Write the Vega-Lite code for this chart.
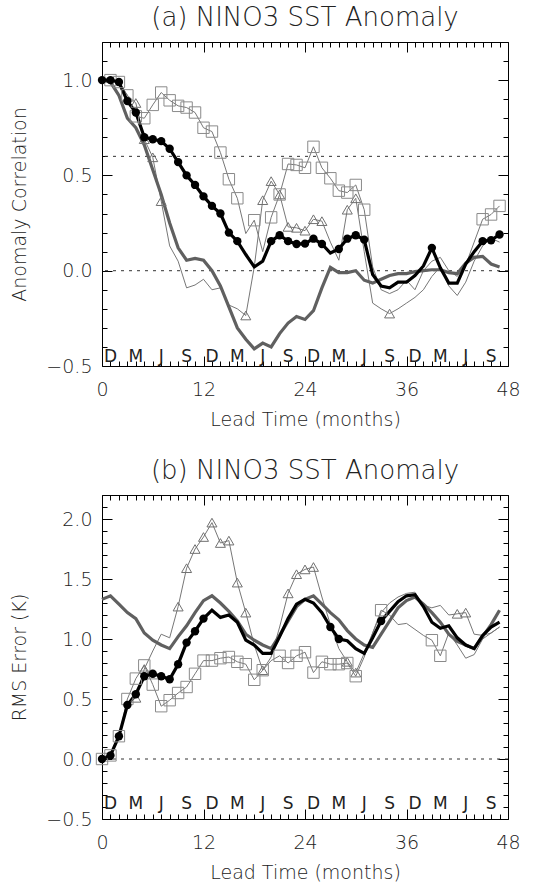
{
  "$schema": "https://vega.github.io/schema/vega-lite/v6.json",
  "background": "white",
  "padding": {"left": 10, "top": 4, "right": 5, "bottom": 5},
  "spacing": 27,
  "datasets": {
    "a": [
      {"x":0,"k":1.0,"g":1.0,"t":1.0,"q":1.0,"mk":1,"mt":0,"mq":0},
      {"x":1,"k":1.0,"g":0.99,"t":1.0,"q":1.0,"mk":1,"mt":0,"mq":1},
      {"x":2,"k":0.99,"g":0.92,"t":0.99,"q":0.99,"mk":1,"mt":0,"mq":1},
      {"x":3,"k":0.89,"g":0.80,"t":0.92,"q":0.92,"mk":1,"mt":0,"mq":1},
      {"x":4,"k":0.83,"g":0.75,"t":0.88,"q":0.81,"mk":1,"mt":1,"mq":1},
      {"x":5,"k":0.70,"g":0.66,"t":0.69,"q":0.80,"mk":1,"mt":1,"mq":1},
      {"x":6,"k":0.69,"g":0.53,"t":0.595,"q":0.87,"mk":1,"mt":1,"mq":1},
      {"x":7,"k":0.68,"g":0.40,"t":0.365,"q":0.935,"mk":1,"mt":1,"mq":1},
      {"x":8,"k":0.64,"g":0.25,"t":0.13,"q":0.894,"mk":1,"mt":0,"mq":1},
      {"x":9,"k":0.57,"g":0.12,"t":0.05,"q":0.865,"mk":1,"mt":0,"mq":1},
      {"x":10,"k":0.50,"g":0.055,"t":-0.09,"q":0.856,"mk":1,"mt":0,"mq":1},
      {"x":11,"k":0.45,"g":0.065,"t":-0.075,"q":0.83,"mk":1,"mt":0,"mq":1},
      {"x":12,"k":0.39,"g":0.055,"t":-0.045,"q":0.75,"mk":1,"mt":0,"mq":1},
      {"x":13,"k":0.34,"g":0.0,"t":-0.10,"q":0.73,"mk":1,"mt":0,"mq":1},
      {"x":14,"k":0.30,"g":-0.08,"t":-0.09,"q":0.62,"mk":1,"mt":0,"mq":1},
      {"x":15,"k":0.20,"g":-0.19,"t":-0.18,"q":0.48,"mk":1,"mt":0,"mq":1},
      {"x":16,"k":0.155,"g":-0.30,"t":-0.20,"q":0.38,"mk":1,"mt":0,"mq":1},
      {"x":17,"k":0.085,"g":-0.36,"t":-0.235,"q":0.195,"mk":0,"mt":1,"mq":0},
      {"x":18,"k":0.02,"g":-0.41,"t":0.02,"q":0.265,"mk":0,"mt":0,"mq":1},
      {"x":19,"k":0.05,"g":-0.38,"t":0.37,"q":0.10,"mk":0,"mt":1,"mq":0},
      {"x":20,"k":0.155,"g":-0.40,"t":0.47,"q":0.28,"mk":1,"mt":1,"mq":1},
      {"x":21,"k":0.186,"g":-0.33,"t":0.40,"q":0.40,"mk":1,"mt":1,"mq":1},
      {"x":22,"k":0.155,"g":-0.275,"t":0.23,"q":0.56,"mk":1,"mt":1,"mq":1},
      {"x":23,"k":0.14,"g":-0.24,"t":0.225,"q":0.555,"mk":1,"mt":1,"mq":1},
      {"x":24,"k":0.142,"g":-0.256,"t":0.21,"q":0.54,"mk":1,"mt":1,"mq":1},
      {"x":25,"k":0.168,"g":-0.21,"t":0.27,"q":0.65,"mk":1,"mt":1,"mq":1},
      {"x":26,"k":0.14,"g":-0.09,"t":0.26,"q":0.54,"mk":1,"mt":1,"mq":1},
      {"x":27,"k":0.093,"g":0.018,"t":0.15,"q":0.485,"mk":0,"mt":0,"mq":1},
      {"x":28,"k":0.114,"g":-0.01,"t":0.055,"q":0.42,"mk":1,"mt":0,"mq":1},
      {"x":29,"k":0.168,"g":-0.01,"t":0.32,"q":0.41,"mk":1,"mt":1,"mq":1},
      {"x":30,"k":0.186,"g":0.0,"t":0.38,"q":0.45,"mk":1,"mt":1,"mq":1},
      {"x":31,"k":0.163,"g":-0.05,"t":0.10,"q":0.32,"mk":1,"mt":0,"mq":1},
      {"x":32,"k":-0.02,"g":-0.065,"t":-0.17,"q":0.02,"mk":0,"mt":0,"mq":0},
      {"x":33,"k":-0.08,"g":-0.045,"t":-0.20,"q":-0.10,"mk":0,"mt":0,"mq":0},
      {"x":34,"k":-0.09,"g":-0.025,"t":-0.225,"q":-0.12,"mk":0,"mt":1,"mq":0},
      {"x":35,"k":-0.06,"g":-0.015,"t":-0.20,"q":-0.10,"mk":0,"mt":0,"mq":0},
      {"x":36,"k":-0.06,"g":-0.015,"t":-0.17,"q":-0.05,"mk":0,"mt":0,"mq":0},
      {"x":37,"k":-0.025,"g":-0.005,"t":-0.14,"q":-0.10,"mk":0,"mt":0,"mq":0},
      {"x":38,"k":0.025,"g":0.0,"t":-0.10,"q":0.0,"mk":0,"mt":0,"mq":0},
      {"x":39,"k":0.12,"g":0.005,"t":-0.03,"q":0.05,"mk":1,"mt":0,"mq":0},
      {"x":40,"k":0.015,"g":0.005,"t":0.02,"q":0.07,"mk":0,"mt":0,"mq":0},
      {"x":41,"k":-0.065,"g":-0.01,"t":-0.08,"q":0.0,"mk":0,"mt":0,"mq":0},
      {"x":42,"k":-0.065,"g":-0.015,"t":-0.13,"q":-0.03,"mk":0,"mt":0,"mq":0},
      {"x":43,"k":0.035,"g":0.04,"t":-0.06,"q":0.03,"mk":0,"mt":0,"mq":0},
      {"x":44,"k":0.10,"g":0.07,"t":0.05,"q":0.15,"mk":0,"mt":0,"mq":0},
      {"x":45,"k":0.155,"g":0.075,"t":0.13,"q":0.27,"mk":1,"mt":0,"mq":1},
      {"x":46,"k":0.16,"g":0.035,"t":0.17,"q":0.295,"mk":1,"mt":0,"mq":1},
      {"x":47,"k":0.19,"g":0.02,"t":0.15,"q":0.34,"mk":1,"mt":0,"mq":1}
    ],
    "b": [
      {"x":0,"k":0.0,"g":1.33,"t":0.0,"q":0.0,"mk":1,"mt":0,"mq":1},
      {"x":1,"k":0.03,"g":1.36,"t":0.03,"q":0.03,"mk":1,"mt":0,"mq":1},
      {"x":2,"k":0.19,"g":1.29,"t":0.19,"q":0.19,"mk":1,"mt":0,"mq":1},
      {"x":3,"k":0.45,"g":1.22,"t":0.46,"q":0.50,"mk":1,"mt":0,"mq":1},
      {"x":4,"k":0.54,"g":1.17,"t":0.51,"q":0.67,"mk":1,"mt":1,"mq":1},
      {"x":5,"k":0.69,"g":1.05,"t":0.75,"q":0.78,"mk":1,"mt":1,"mq":1},
      {"x":6,"k":0.71,"g":0.99,"t":0.90,"q":0.62,"mk":1,"mt":0,"mq":1},
      {"x":7,"k":0.69,"g":0.95,"t":1.04,"q":0.44,"mk":1,"mt":0,"mq":1},
      {"x":8,"k":0.665,"g":0.92,"t":1.01,"q":0.49,"mk":1,"mt":0,"mq":1},
      {"x":9,"k":0.79,"g":1.02,"t":1.27,"q":0.55,"mk":1,"mt":1,"mq":1},
      {"x":10,"k":0.97,"g":1.11,"t":1.59,"q":0.60,"mk":1,"mt":1,"mq":1},
      {"x":11,"k":1.065,"g":1.22,"t":1.75,"q":0.71,"mk":1,"mt":1,"mq":1},
      {"x":12,"k":1.17,"g":1.32,"t":1.85,"q":0.82,"mk":1,"mt":1,"mq":1},
      {"x":13,"k":1.24,"g":1.36,"t":1.97,"q":0.82,"mk":0,"mt":1,"mq":1},
      {"x":14,"k":1.18,"g":1.30,"t":1.80,"q":0.84,"mk":0,"mt":1,"mq":1},
      {"x":15,"k":1.20,"g":1.23,"t":1.82,"q":0.85,"mk":0,"mt":1,"mq":1},
      {"x":16,"k":1.14,"g":1.15,"t":1.47,"q":0.81,"mk":0,"mt":1,"mq":1},
      {"x":17,"k":0.99,"g":1.04,"t":1.22,"q":0.79,"mk":0,"mt":1,"mq":1},
      {"x":18,"k":0.95,"g":0.99,"t":0.95,"q":0.66,"mk":0,"mt":0,"mq":1},
      {"x":19,"k":0.88,"g":0.95,"t":0.74,"q":0.74,"mk":0,"mt":1,"mq":1},
      {"x":20,"k":0.88,"g":0.92,"t":0.85,"q":0.82,"mk":0,"mt":0,"mq":0},
      {"x":21,"k":1.02,"g":1.03,"t":1.10,"q":0.86,"mk":0,"mt":0,"mq":1},
      {"x":22,"k":1.17,"g":1.15,"t":1.38,"q":0.80,"mk":0,"mt":1,"mq":1},
      {"x":23,"k":1.29,"g":1.27,"t":1.54,"q":0.86,"mk":0,"mt":1,"mq":1},
      {"x":24,"k":1.33,"g":1.33,"t":1.58,"q":0.89,"mk":0,"mt":1,"mq":1},
      {"x":25,"k":1.30,"g":1.36,"t":1.60,"q":0.72,"mk":0,"mt":1,"mq":1},
      {"x":26,"k":1.22,"g":1.29,"t":1.35,"q":0.81,"mk":0,"mt":0,"mq":1},
      {"x":27,"k":1.10,"g":1.22,"t":1.12,"q":0.79,"mk":1,"mt":0,"mq":1},
      {"x":28,"k":1.0,"g":1.16,"t":0.92,"q":0.79,"mk":1,"mt":0,"mq":1},
      {"x":29,"k":0.985,"g":1.07,"t":0.81,"q":0.80,"mk":0,"mt":1,"mq":1},
      {"x":30,"k":0.92,"g":1.00,"t":0.72,"q":0.69,"mk":0,"mt":1,"mq":1},
      {"x":31,"k":0.88,"g":0.95,"t":0.88,"q":0.85,"mk":0,"mt":0,"mq":0},
      {"x":32,"k":1.01,"g":0.93,"t":1.05,"q":1.05,"mk":0,"mt":0,"mq":0},
      {"x":33,"k":1.15,"g":1.04,"t":1.22,"q":1.24,"mk":1,"mt":0,"mq":1},
      {"x":34,"k":1.23,"g":1.15,"t":1.30,"q":1.20,"mk":0,"mt":0,"mq":0},
      {"x":35,"k":1.31,"g":1.26,"t":1.35,"q":1.12,"mk":0,"mt":0,"mq":0},
      {"x":36,"k":1.36,"g":1.32,"t":1.38,"q":1.13,"mk":0,"mt":0,"mq":0},
      {"x":37,"k":1.37,"g":1.35,"t":1.39,"q":1.08,"mk":0,"mt":0,"mq":0},
      {"x":38,"k":1.27,"g":1.29,"t":1.28,"q":1.03,"mk":0,"mt":0,"mq":0},
      {"x":39,"k":1.14,"g":1.22,"t":1.26,"q":0.99,"mk":0,"mt":0,"mq":1},
      {"x":40,"k":1.09,"g":1.14,"t":1.28,"q":0.86,"mk":0,"mt":0,"mq":1},
      {"x":41,"k":1.11,"g":1.04,"t":1.20,"q":1.05,"mk":0,"mt":0,"mq":0},
      {"x":42,"k":1.01,"g":0.98,"t":1.21,"q":0.95,"mk":0,"mt":1,"mq":0},
      {"x":43,"k":0.95,"g":0.95,"t":1.22,"q":0.84,"mk":0,"mt":1,"mq":0},
      {"x":44,"k":0.92,"g":0.92,"t":1.04,"q":0.87,"mk":0,"mt":0,"mq":0},
      {"x":45,"k":1.03,"g":1.02,"t":1.03,"q":1.00,"mk":0,"mt":0,"mq":0},
      {"x":46,"k":1.10,"g":1.12,"t":1.05,"q":1.05,"mk":0,"mt":0,"mq":0},
      {"x":47,"k":1.14,"g":1.24,"t":1.10,"q":1.10,"mk":0,"mt":0,"mq":0}
    ],
    "mo": [
      {"x":1,"l":"D"},{"x":4,"l":"M"},{"x":7,"l":"J"},{"x":10,"l":"S"},
      {"x":13,"l":"D"},{"x":16,"l":"M"},{"x":19,"l":"J"},{"x":22,"l":"S"},
      {"x":25,"l":"D"},{"x":28,"l":"M"},{"x":31,"l":"J"},{"x":34,"l":"S"},
      {"x":37,"l":"D"},{"x":40,"l":"M"},{"x":43,"l":"J"},{"x":46,"l":"S"}
    ],
    "ra": [{"r":0.6},{"r":0}],
    "rb": [{"r":0}]
  },
  "vconcat": [
    {
      "title": "(a) NINO3 SST Anomaly",
      "width": 406,
      "height": 324,
      "data": {"name": "a"},
      "resolve": {"axis": {"x": "independent", "y": "independent"}},
      "layer": [
        {"data": {"name": "ra"}, "mark": {"type": "rule", "strokeDash": [3, 5], "color": "#333", "strokeWidth": 1},
         "encoding": {"y": {"field": "r", "type": "quantitative", "scale": {"domain": [-0.5, 1.2], "nice": false, "zero": false}, "axis": null}}},
        {"mark": {"type": "line", "color": "#777777", "strokeWidth": 1},
         "encoding": {"x": {"field": "x", "type": "quantitative", "scale": {"domain": [0, 48], "nice": false, "zero": false}, "axis": null},
                      "y": {"field": "t", "type": "quantitative", "scale": {"domain": [-0.5, 1.2], "nice": false, "zero": false}, "axis": null}}},
        {"mark": {"type": "line", "color": "#777777", "strokeWidth": 1},
         "encoding": {"x": {"field": "x", "type": "quantitative", "axis": null},
                      "y": {"field": "q", "type": "quantitative", "axis": null}}},
        {"mark": {"type": "line", "color": "#606060", "strokeWidth": 3.2},
         "encoding": {"x": {"field": "x", "type": "quantitative",
                            "axis": {"orient": "top", "values": [0,1,2,3,4,5,6,7,8,9,10,11,12,13,14,15,16,17,18,19,20,21,22,23,24,25,26,27,28,29,30,31,32,33,34,35,36,37,38,39,40,41,42,43,44,45,46,47,48],
                                     "tickSize": {"condition": {"test": "datum.value % 12 === 0", "value": -10}, "value": -5},
                                     "labels": false, "title": null}},
                      "y": {"field": "g", "type": "quantitative",
                            "axis": {"orient": "right", "values": [-0.5,-0.4,-0.3,-0.2,-0.1,0,0.1,0.2,0.3,0.4,0.5,0.6,0.7,0.8,0.9,1,1.1,1.2],
                                     "tickSize": {"condition": {"test": "abs(datum.value*2 - round(datum.value*2)) < 0.001", "value": -10}, "value": -5},
                                     "labels": false, "title": null}}}},
        {"mark": {"type": "line", "color": "#000000", "strokeWidth": 3.2},
         "encoding": {"x": {"field": "x", "type": "quantitative",
                            "axis": {"orient": "bottom", "values": [0,1,2,3,4,5,6,7,8,9,10,11,12,13,14,15,16,17,18,19,20,21,22,23,24,25,26,27,28,29,30,31,32,33,34,35,36,37,38,39,40,41,42,43,44,45,46,47,48],
                                     "tickSize": {"condition": {"test": "datum.value % 12 === 0", "value": -10}, "value": -5},
                                     "labelExpr": "datum.value % 12 === 0 ? datum.label : ''",
                                     "labelOverlap": false, "labelFlush": false, "labelPadding": 24,
                                     "title": "Lead Time (months)", "titlePadding": 6}},
                      "y": {"field": "k", "type": "quantitative",
                            "axis": {"orient": "left", "values": [-0.5,-0.4,-0.3,-0.2,-0.1,0,0.1,0.2,0.3,0.4,0.5,0.6,0.7,0.8,0.9,1,1.1,1.2],
                                     "tickSize": {"condition": {"test": "abs(datum.value*2 - round(datum.value*2)) < 0.001", "value": -10}, "value": -5},
                                     "format": ".1f",
                                     "labelExpr": "abs(datum.value*2 - round(datum.value*2)) < 0.001 ? datum.label : ''",
                                     "labelOverlap": false, "labelFlush": false, "labelPadding": 20,
                                     "title": "Anomaly Correlation", "titlePadding": 16}}}},
        {"transform": [{"filter": "datum.mt == 1"}],
         "mark": {"type": "point", "shape": "triangle-up", "size": 100, "filled": false, "stroke": "#707070", "strokeWidth": 1, "opacity": 1},
         "encoding": {"x": {"field": "x", "type": "quantitative", "axis": null}, "y": {"field": "t", "type": "quantitative", "axis": null}}},
        {"transform": [{"filter": "datum.mq == 1"}],
         "mark": {"type": "point", "shape": "square", "size": 130, "filled": false, "stroke": "#8a8a8a", "strokeWidth": 1, "opacity": 1},
         "encoding": {"x": {"field": "x", "type": "quantitative", "axis": null}, "y": {"field": "q", "type": "quantitative", "axis": null}}},
        {"transform": [{"filter": "datum.mk == 1"}],
         "mark": {"type": "circle", "size": 70, "color": "#000000", "opacity": 1},
         "encoding": {"x": {"field": "x", "type": "quantitative", "axis": null}, "y": {"field": "k", "type": "quantitative", "axis": null}}},
        {"data": {"name": "mo"},
         "mark": {"type": "text", "fontSize": 17, "color": "#222", "baseline": "alphabetic", "align": "center", "fontWeight": "normal"},
         "encoding": {"x": {"field": "x", "type": "quantitative", "axis": null},
                      "y": {"datum": -0.48, "type": "quantitative", "axis": null},
                      "text": {"field": "l"}}}
      ]
    },
    {
      "title": "(b) NINO3 SST Anomaly",
      "width": 406,
      "height": 324,
      "data": {"name": "b"},
      "resolve": {"axis": {"x": "independent", "y": "independent"}},
      "layer": [
        {"data": {"name": "rb"}, "mark": {"type": "rule", "strokeDash": [3, 5], "color": "#333", "strokeWidth": 1},
         "encoding": {"y": {"field": "r", "type": "quantitative", "scale": {"domain": [-0.5, 2.2], "nice": false, "zero": false}, "axis": null}}},
        {"mark": {"type": "line", "color": "#777777", "strokeWidth": 1},
         "encoding": {"x": {"field": "x", "type": "quantitative", "scale": {"domain": [0, 48], "nice": false, "zero": false}, "axis": null},
                      "y": {"field": "t", "type": "quantitative", "scale": {"domain": [-0.5, 2.2], "nice": false, "zero": false}, "axis": null}}},
        {"mark": {"type": "line", "color": "#777777", "strokeWidth": 1},
         "encoding": {"x": {"field": "x", "type": "quantitative", "axis": null},
                      "y": {"field": "q", "type": "quantitative", "axis": null}}},
        {"mark": {"type": "line", "color": "#606060", "strokeWidth": 3.2},
         "encoding": {"x": {"field": "x", "type": "quantitative",
                            "axis": {"orient": "top", "values": [0,1,2,3,4,5,6,7,8,9,10,11,12,13,14,15,16,17,18,19,20,21,22,23,24,25,26,27,28,29,30,31,32,33,34,35,36,37,38,39,40,41,42,43,44,45,46,47,48],
                                     "tickSize": {"condition": {"test": "datum.value % 12 === 0", "value": -10}, "value": -5},
                                     "labels": false, "title": null}},
                      "y": {"field": "g", "type": "quantitative",
                            "axis": {"orient": "right", "values": [-0.5,-0.4,-0.3,-0.2,-0.1,0,0.1,0.2,0.3,0.4,0.5,0.6,0.7,0.8,0.9,1,1.1,1.2,1.3,1.4,1.5,1.6,1.7,1.8,1.9,2,2.1,2.2],
                                     "tickSize": {"condition": {"test": "abs(datum.value*2 - round(datum.value*2)) < 0.001", "value": -10}, "value": -5},
                                     "labels": false, "title": null}}}},
        {"mark": {"type": "line", "color": "#000000", "strokeWidth": 3.2},
         "encoding": {"x": {"field": "x", "type": "quantitative",
                            "axis": {"orient": "bottom", "values": [0,1,2,3,4,5,6,7,8,9,10,11,12,13,14,15,16,17,18,19,20,21,22,23,24,25,26,27,28,29,30,31,32,33,34,35,36,37,38,39,40,41,42,43,44,45,46,47,48],
                                     "tickSize": {"condition": {"test": "datum.value % 12 === 0", "value": -10}, "value": -5},
                                     "labelExpr": "datum.value % 12 === 0 ? datum.label : ''",
                                     "labelOverlap": false, "labelFlush": false, "labelPadding": 24,
                                     "title": "Lead Time (months)", "titlePadding": 6}},
                      "y": {"field": "k", "type": "quantitative",
                            "axis": {"orient": "left", "values": [-0.5,-0.4,-0.3,-0.2,-0.1,0,0.1,0.2,0.3,0.4,0.5,0.6,0.7,0.8,0.9,1,1.1,1.2,1.3,1.4,1.5,1.6,1.7,1.8,1.9,2,2.1,2.2],
                                     "tickSize": {"condition": {"test": "abs(datum.value*2 - round(datum.value*2)) < 0.001", "value": -10}, "value": -5},
                                     "format": ".1f",
                                     "labelExpr": "abs(datum.value*2 - round(datum.value*2)) < 0.001 ? datum.label : ''",
                                     "labelOverlap": false, "labelFlush": false, "labelPadding": 20,
                                     "title": "RMS Error (K)", "titlePadding": 16}}}},
        {"transform": [{"filter": "datum.mt == 1"}],
         "mark": {"type": "point", "shape": "triangle-up", "size": 100, "filled": false, "stroke": "#707070", "strokeWidth": 1, "opacity": 1},
         "encoding": {"x": {"field": "x", "type": "quantitative", "axis": null}, "y": {"field": "t", "type": "quantitative", "axis": null}}},
        {"transform": [{"filter": "datum.mq == 1"}],
         "mark": {"type": "point", "shape": "square", "size": 130, "filled": false, "stroke": "#8a8a8a", "strokeWidth": 1, "opacity": 1},
         "encoding": {"x": {"field": "x", "type": "quantitative", "axis": null}, "y": {"field": "q", "type": "quantitative", "axis": null}}},
        {"transform": [{"filter": "datum.mk == 1"}],
         "mark": {"type": "circle", "size": 70, "color": "#000000", "opacity": 1},
         "encoding": {"x": {"field": "x", "type": "quantitative", "axis": null}, "y": {"field": "k", "type": "quantitative", "axis": null}}},
        {"data": {"name": "mo"},
         "mark": {"type": "text", "fontSize": 17, "color": "#222", "baseline": "alphabetic", "align": "center", "fontWeight": "normal"},
         "encoding": {"x": {"field": "x", "type": "quantitative", "axis": null},
                      "y": {"datum": -0.42, "type": "quantitative", "axis": null},
                      "text": {"field": "l"}}}
      ]
    }
  ],
  "config": {
    "font": "DejaVu Sans",
    "view": {"stroke": "#000000", "strokeWidth": 1},
    "axis": {"domain": false, "grid": false, "tickColor": "#000000", "tickWidth": 1,
             "labelFont": "DejaVu Sans", "labelFontSize": 19, "labelFontWeight": 200, "labelColor": "#222",
             "titleFont": "DejaVu Sans", "titleFontSize": 19, "titleFontWeight": 200, "titleColor": "#222"},
    "title": {"font": "DejaVu Sans", "fontSize": 26, "fontWeight": 200, "color": "#222", "offset": 2, "anchor": "middle"}
  }
}
